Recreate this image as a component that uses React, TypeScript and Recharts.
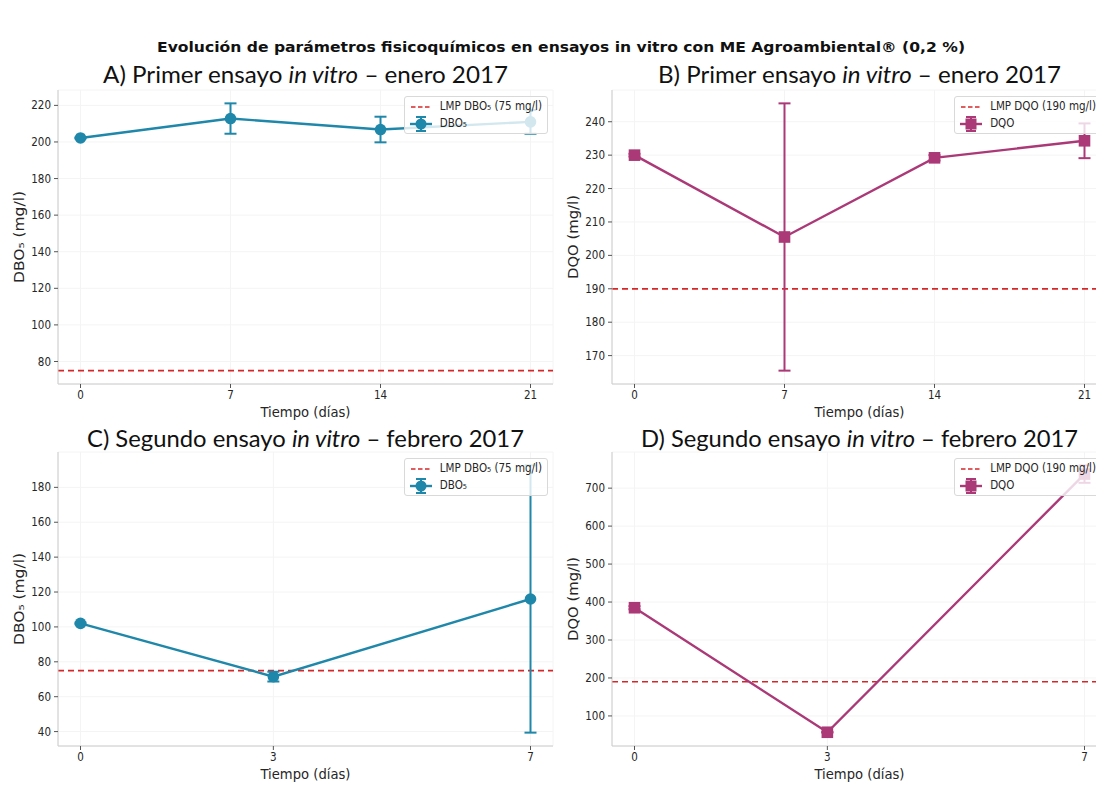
import React from 'react';
import { LineChart, Line, XAxis, YAxis, CartesianGrid, ReferenceLine, ErrorBar } from 'recharts';

const FONT = "'DejaVu Sans Condensed', 'DejaVu Sans', sans-serif";
const TITLE_FONT = "Lato, 'Open Sans', sans-serif";
const DBO_COLOR = '#1f87a9';
const DQO_COLOR = '#ab3977';
const LMP_COLOR = '#d62728';

const suptitle = 'Evolución de parámetros fisicoquímicos en ensayos in vitro con ME Agroambiental® (0,2 %)';
const xLabel = 'Tiempo (días)';

const janDays = [0, 7, 14, 21];
const febDays = [0, 3, 7];

const dboJan = [202.2, 212.8, 206.8, 211.0];
const dboJanErr = [0.3, 8.3, 7.0, 6.5];
const dqoJan = [230.0, 205.5, 229.2, 234.3];
const dqoJanErr = [0.4, 40.0, 0.8, 5.2];
const dboFeb = [102.0, 71.5, 116.0];
const dboFebErr = [0.5, 2.8, 76.6];
const dqoFeb = [385, 57, 737];
const dqoFebErr = [4, 1, 23];

const janTicks = [0, 7, 14, 21];
const febTicks = [0, 3, 7];
const dboJanTicks = [80, 100, 120, 140, 160, 180, 200, 220];
const dqoJanTicks = [170, 180, 190, 200, 210, 220, 230, 240];
const dboFebTicks = [40, 60, 80, 100, 120, 140, 160, 180];
const dqoFebTicks = [100, 200, 300, 400, 500, 600, 700];

const LMP_DBO = 75;
const LMP_DQO = 190;

const dboLabel = 'DBO₅ (mg/l)';
const dqoLabel = 'DQO (mg/l)';
const dboLimitLabel = 'LMP DBO₅ (75 mg/l)';
const dqoLimitLabel = 'LMP DQO (190 mg/l)';
const dboSeries = 'DBO₅';
const dqoSeries = 'DQO';

function pad(lo: number, hi: number): [number, number] {
  const m = (hi - lo) * 0.05;
  return [lo - m, hi + m];
}

type PanelProps = {
  plotLeft: number;
  plotTop: number;
  plotW: number;
  plotH: number;
  days: number[];
  values: number[];
  errs: number[];
  xTicks: number[];
  yTicks: number[];
  limit: number;
  color: string;
  marker: 'circle' | 'square';
  yLabel: string;
  yLabelLen: number;
  limitLabel: string;
  seriesLabel: string;
};

function Handle({ color, marker, dashed }: { color: string; marker?: string; dashed?: boolean }) {
  return (
    <svg width={22} height={16} style={{ display: 'block' }}>
      {dashed ? (
        <line x1={1} y1={8} x2={21} y2={8} stroke={LMP_COLOR} strokeWidth={1.6} strokeDasharray="4.5 2.5" />
      ) : (
        <g>
          <line x1={0} y1={8} x2={22} y2={8} stroke={color} strokeWidth={2.4} />
          <line x1={11} y1={1} x2={11} y2={15} stroke={color} strokeWidth={2} />
          <line x1={6} y1={1} x2={16} y2={1} stroke={color} strokeWidth={2} />
          <line x1={6} y1={15} x2={16} y2={15} stroke={color} strokeWidth={2} />
          {marker === 'circle' ? (
            <circle cx={11} cy={8} r={5.5} fill={color} />
          ) : (
            <rect x={5.5} y={2.5} width={11} height={11} fill={color} />
          )}
        </g>
      )}
    </svg>
  );
}

function Panel(p: PanelProps) {
  const data = p.days.map((d, i) => ({ x: d, y: p.values[i], err: p.errs[i] }));
  const xDomain = pad(Math.min(...p.days), Math.max(...p.days));
  const lows = p.values.map((v, i) => v - p.errs[i]).concat([p.limit]);
  const highs = p.values.map((v, i) => v + p.errs[i]).concat([p.limit]);
  const yDomain = pad(Math.min(...lows), Math.max(...highs));
  const AXW = 58;
  const TOP = 10;
  const XH = 45;
  const RIGHT = 10;
  const color = p.color;
  const renderDot = (d: any) => {
    const k = `dot-${d.index}`;
    if (p.marker === 'circle') {
      return <circle key={k} cx={d.cx} cy={d.cy} r={5.8} fill={color} />;
    }
    return <rect key={k} x={d.cx - 5.8} y={d.cy - 5.8} width={11.6} height={11.6} fill={color} />;
  };
  return (
    <div style={{ position: 'absolute', left: p.plotLeft - AXW, top: p.plotTop - TOP }}>
      <LineChart
        width={AXW + p.plotW + RIGHT}
        height={TOP + p.plotH + XH}
        data={data}
        margin={{ top: TOP, right: RIGHT, left: 0, bottom: 0 }}
      >
        <CartesianGrid stroke="#f4f4f4" strokeWidth={1} />
        <XAxis
          type="number"
          dataKey="x"
          domain={xDomain}
          ticks={p.xTicks}
          allowDataOverflow
          height={XH}
          axisLine={{ stroke: '#cccccc' }}
          tickLine={{ stroke: '#555555' }}
          tickSize={4}
          tickMargin={3}
          tick={{ fontSize: 11.5, fill: '#262626', fontFamily: FONT }}
          label={(lp: any) => {
            const vb = lp.viewBox || {};
            return (
              <text
                x={vb.x + vb.width / 2}
                y={vb.y + 28}
                textAnchor="middle"
                dominantBaseline="central"
                fontSize={13.5}
                fontFamily={FONT}
                textLength={90}
                lengthAdjust="spacingAndGlyphs"
                fill="#262626"
              >
                {xLabel}
              </text>
            );
          }}
        />
        <YAxis
          type="number"
          domain={yDomain}
          ticks={p.yTicks}
          allowDataOverflow
          width={AXW}
          axisLine={{ stroke: '#cccccc' }}
          tickLine={{ stroke: '#555555' }}
          tickSize={4}
          tickMargin={3}
          tick={{ fontSize: 11.5, fill: '#262626', fontFamily: FONT }}
          label={(lp: any) => {
            const vb = lp.viewBox || {};
            const cx = vb.x + vb.width - 39;
            const cy = vb.y + vb.height / 2;
            return (
              <text
                x={cx}
                y={cy}
                transform={`rotate(-90, ${cx}, ${cy})`}
                textAnchor="middle"
                dominantBaseline="central"
                fontSize={13.5}
                fontFamily={FONT}
                textLength={p.yLabelLen}
                lengthAdjust="spacingAndGlyphs"
                fill="#262626"
              >
                {p.yLabel}
              </text>
            );
          }}
        />
        <ReferenceLine y={p.limit} stroke={LMP_COLOR} strokeWidth={1.7} strokeDasharray="6 4" ifOverflow="extendDomain" />
        <Line
          type="linear"
          dataKey="y"
          stroke={color}
          strokeWidth={2.4}
          dot={renderDot}
          activeDot={false}
          isAnimationActive={false}
        >
          <ErrorBar dataKey="err" direction="y" width={6} strokeWidth={2} stroke={color} isAnimationActive={false} />
        </Line>
      </LineChart>
      <div
        style={{
          position: 'absolute',
          right: RIGHT + 5,
          top: TOP + 6,
          background: 'rgba(255,255,255,0.8)',
          border: '1px solid #d9d9d9',
          borderRadius: 3,
          padding: '1px 5px 1px 5px',
          fontFamily: FONT,
          fontSize: 11.5,
          color: '#262626',
          lineHeight: '17px',
        }}
      >
        <div style={{ display: 'flex', alignItems: 'center', gap: 8 }}>
          <Handle color={color} dashed />
          <span>{p.limitLabel}</span>
        </div>
        <div style={{ display: 'flex', alignItems: 'center', gap: 8 }}>
          <Handle color={color} marker={p.marker} />
          <span>{p.seriesLabel}</span>
        </div>
      </div>
    </div>
  );
}

const PLOT_W = 495;
const PLOT_H = 294;

export default function App() {
  return (
    <div
      style={{
        position: 'fixed',
        left: 0,
        top: 0,
        width: 1096,
        height: 785,
        overflow: 'hidden',
        background: '#ffffff',
      }}
    >
      <svg width={1096} height={785} style={{ position: 'absolute', left: 0, top: 0 }}>
        <text
          x={561}
          y={52}
          textAnchor="middle"
          fontWeight="bold"
          fontSize={13.5}
          fontFamily="'DejaVu Sans', sans-serif"
          textLength={808}
          lengthAdjust="spacingAndGlyphs"
          fill="#111"
        >
          {suptitle}
        </text>
        <text x={305.5} y={83} textAnchor="middle" fontSize={23} fontFamily={TITLE_FONT} textLength={405} lengthAdjust="spacingAndGlyphs" fill="#111">
          A) Primer ensayo <tspan fontStyle="italic">in vitro</tspan> – enero 2017
        </text>
        <text x={859.5} y={83} textAnchor="middle" fontSize={23} fontFamily={TITLE_FONT} textLength={403} lengthAdjust="spacingAndGlyphs" fill="#111">
          B) Primer ensayo <tspan fontStyle="italic">in vitro</tspan> – enero 2017
        </text>
        <text x={305.5} y={447} textAnchor="middle" fontSize={23} fontFamily={TITLE_FONT} textLength={437} lengthAdjust="spacingAndGlyphs" fill="#111">
          C) Segundo ensayo <tspan fontStyle="italic">in vitro</tspan> – febrero 2017
        </text>
        <text x={859.5} y={447} textAnchor="middle" fontSize={23} fontFamily={TITLE_FONT} textLength={437} lengthAdjust="spacingAndGlyphs" fill="#111">
          D) Segundo ensayo <tspan fontStyle="italic">in vitro</tspan> – febrero 2017
        </text>
      </svg>
      <Panel
        plotLeft={58}
        plotTop={90}
        plotW={PLOT_W}
        plotH={PLOT_H}
        days={janDays}
        values={dboJan}
        errs={dboJanErr}
        xTicks={janTicks}
        yTicks={dboJanTicks}
        limit={LMP_DBO}
        color={DBO_COLOR}
        marker="circle"
        yLabel={dboLabel}
        yLabelLen={92}
        limitLabel={dboLimitLabel}
        seriesLabel={dboSeries}
      />
      <Panel
        plotLeft={612}
        plotTop={90}
        plotW={PLOT_W}
        plotH={PLOT_H}
        days={janDays}
        values={dqoJan}
        errs={dqoJanErr}
        xTicks={janTicks}
        yTicks={dqoJanTicks}
        limit={LMP_DQO}
        color={DQO_COLOR}
        marker="square"
        yLabel={dqoLabel}
        yLabelLen={84}
        limitLabel={dqoLimitLabel}
        seriesLabel={dqoSeries}
      />
      <Panel
        plotLeft={58}
        plotTop={452}
        plotW={PLOT_W}
        plotH={PLOT_H}
        days={febDays}
        values={dboFeb}
        errs={dboFebErr}
        xTicks={febTicks}
        yTicks={dboFebTicks}
        limit={LMP_DBO}
        color={DBO_COLOR}
        marker="circle"
        yLabel={dboLabel}
        yLabelLen={92}
        limitLabel={dboLimitLabel}
        seriesLabel={dboSeries}
      />
      <Panel
        plotLeft={612}
        plotTop={452}
        plotW={PLOT_W}
        plotH={PLOT_H}
        days={febDays}
        values={dqoFeb}
        errs={dqoFebErr}
        xTicks={febTicks}
        yTicks={dqoFebTicks}
        limit={LMP_DQO}
        color={DQO_COLOR}
        marker="square"
        yLabel={dqoLabel}
        yLabelLen={84}
        limitLabel={dqoLimitLabel}
        seriesLabel={dqoSeries}
      />
    </div>
  );
}
